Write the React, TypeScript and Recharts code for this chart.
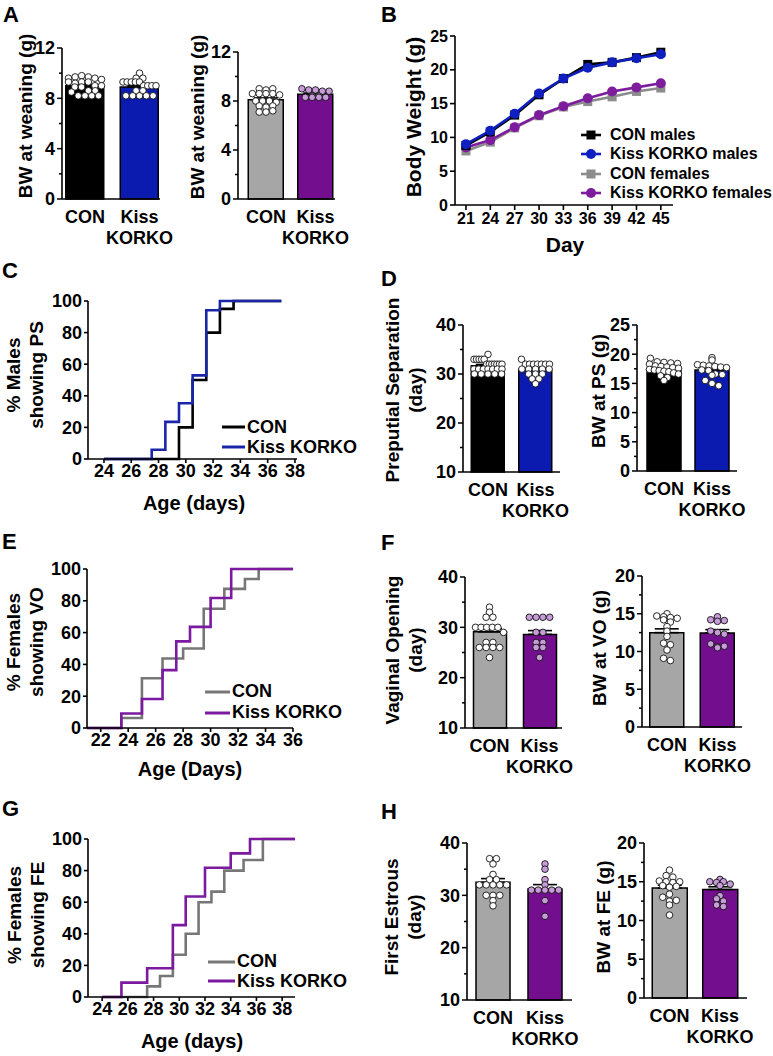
import React from 'react';
import { ComposedChart, Bar, Cell, ErrorBar, Scatter, XAxis, YAxis, LineChart, Line } from 'recharts';

const FONT = '"Liberation Sans", Arial, Helvetica, sans-serif';
const BLUE = '#0b1bb0';
const PURPLE = '#730f8f';
const GREY = '#a6a6a6';
const GREY_LINE = '#777777';
const LILAC = '#c89bd9';

const groups = ['CON', 'Kiss KORKO'];

// A - body weight at weaning
const weanMalesMean = [9.0, 8.9];
const weanMalesSem = [0.11, 0.12];
const weanMalesCon = [9.6, 9.7, 9.8, 9.7, 9.6, 9.5, 9.3, 9.2, 9.3, 9.3, 9.0, 8.9, 8.9, 9.0, 8.6, 8.5, 8.6, 8.2, 8.2, 8.2, 8.2];
const weanMalesKiss = [10.0, 9.6, 9.6, 9.3, 9.3, 9.3, 9.3, 9.3, 9.0, 9.0, 9.0, 9.0, 8.6, 8.6, 8.2, 8.2, 8.2, 8.2, 8.2];
const weanFemalesMean = [8.1, 8.55];
const weanFemalesSem = [0.15, 0.1];
const weanFemalesCon = [9.0, 8.9, 9.0, 8.6, 8.6, 8.6, 8.6, 8.5, 8.0, 8.0, 8.0, 7.9, 7.6, 7.5, 7.6, 7.1, 7.1, 7.2];
const weanFemalesKiss = [9.0, 8.9, 8.9, 8.8, 8.8, 8.4, 8.3, 8.3, 8.3, 8.3, 8.4];

// B - growth curves
const growthDays = [21, 24, 27, 30, 33, 36, 39, 42, 45];
const growthConMales = [8.8, 10.8, 13.3, 16.3, 18.7, 20.8, 21.1, 21.8, 22.6];
const growthKissMales = [9.0, 11.0, 13.5, 16.5, 18.7, 20.3, 21.1, 21.7, 22.3];
const growthConFemales = [8.0, 9.3, 11.4, 13.2, 14.5, 15.3, 16.0, 16.8, 17.3];
const growthKissFemales = [8.5, 9.6, 11.5, 13.3, 14.6, 15.8, 16.8, 17.4, 18.0];
const growthTicks = [0, 5, 10, 15, 20, 25];

// C - preputial separation, cumulative %
const psConDays = [24, 29.5, 30.5, 31.5, 32.5, 33.5, 37];
const psConPct = [0, 20, 50, 80, 95, 100, 100];
const psKissDays = [24, 27.5, 28.5, 29.5, 30.5, 31.5, 32.5, 37];
const psKissPct = [0, 5.9, 23.5, 35.3, 52.9, 94.1, 100, 100];
const psAgeTicks = [24, 26, 28, 30, 32, 34, 36, 38];

// D - age and weight at PS
const psDayMean = [31.7, 30.9];
const psDaySem = [0.25, 0.3];
const psDayCon = [34, 33, 33, 33, 33, 33, 32, 32, 32, 32, 32, 32, 32, 31, 31, 31, 31, 31, 31, 31, 30, 30, 30, 30, 30];
const psDayKiss = [33, 32, 32, 32, 32, 32, 32, 32, 31, 31, 31, 31, 31, 30, 30, 30, 29, 29, 28];
const psBwMean = [17.5, 17.3];
const psBwSem = [0.2, 0.3];
const psBwCon = [19.3, 18.7, 18.6, 18.5, 18.4, 18.3, 18.0, 17.9, 17.8, 17.7, 17.6, 17.4, 17.3, 17.2, 17.1, 17.0, 16.8, 16.6, 16.3, 16.0, 15.5];
const psBwKiss = [19.4, 19.0, 18.2, 18.1, 18.0, 17.9, 17.8, 17.7, 17.3, 17.2, 16.6, 16.5, 16.4, 15.5, 15.0, 14.6];

// E - vaginal opening, cumulative %
const voConDays = [21, 23.5, 25, 26.5, 28, 29.5, 31, 32.5, 33.5, 36];
const voConPct = [0, 6.25, 31.25, 43.75, 50, 75, 87.5, 93.75, 100, 100];
const voKissDays = [21, 23.5, 25, 26.5, 27.5, 28.5, 30, 31.5, 36];
const voKissPct = [0, 9.1, 18.2, 36.4, 54.5, 63.6, 81.8, 100, 100];
const voAgeTicks = [22, 24, 26, 28, 30, 32, 34, 36];

// F - age and weight at VO
const voDayMean = [29.1, 28.6];
const voDaySem = [0.65, 0.75];
const voDayCon = [34, 33, 32, 32, 30, 30, 30, 30, 30, 29, 27, 27, 26, 26, 26, 26, 24];
const voDayKiss = [32, 32, 32, 32, 29, 29, 27, 27, 26, 26, 24];
const voBwMean = [12.5, 12.45];
const voBwSem = [0.5, 0.45];
const voBwCon = [15.0, 14.7, 14.6, 14.5, 14.4, 14.2, 13.9, 13.3, 12.7, 12.0, 11.1, 10.9, 10.2, 9.1, 8.8];
const voBwKiss = [14.6, 14.2, 14.0, 14.1, 12.7, 12.5, 12.3, 11.0, 10.6, 10.5, 10.7];

// G - first estrus, cumulative %
const feConDays = [24, 27.5, 28.5, 29.5, 30.5, 31.5, 32.5, 33.5, 35, 36.5, 39];
const feConPct = [0, 6.7, 13.3, 26.7, 40, 60, 66.7, 80, 86.7, 100, 100];
const feKissDays = [24, 25.5, 27.5, 29.5, 30.5, 32, 34, 35.5, 39];
const feKissPct = [0, 9.1, 18.2, 45.5, 63.6, 81.8, 90.9, 100, 100];
const feAgeTicks = [24, 26, 28, 30, 32, 34, 36, 38];

// H - age and weight at FE
const feDayMean = [32.5, 31.2];
const feDaySem = [0.7, 0.85];
const feDayCon = [37, 37, 36, 34, 33, 33, 32, 32, 32, 32, 32, 30, 30, 30, 29, 28];
const feDayKiss = [36, 35, 33, 32, 31, 31, 31, 31, 31, 29, 26];
const feBwMean = [14.2, 14.0];
const feBwSem = [0.35, 0.35];
const feBwCon = [16.5, 15.8, 15.6, 15.1, 15.0, 14.9, 15.0, 14.5, 14.3, 14.4, 13.4, 13.0, 12.5, 12.6, 12.0, 10.7];
const feBwKiss = [15.3, 15.0, 14.9, 15.0, 14.7, 14.5, 13.2, 12.8, 12.5, 12.0, 11.8];

const pctTicks = [0, 20, 40, 60, 80, 100];

// spread dots of similar value side by side (scatter dot plot)
function swarm(vals: number[], g: number, bin: number, step: number, maxW: number) {
  const rows = new Map<number, number[]>();
  vals.forEach((v) => {
    const k = Math.round(v / bin);
    rows.set(k, [...(rows.get(k) || []), v]);
  });
  const pts: { g: number; v: number }[] = [];
  rows.forEach((row) => {
    const s = row.length > 1 ? Math.min(step, maxW / (row.length - 1)) : 0;
    row.forEach((v, i) => pts.push({ g: g + (i - (row.length - 1) / 2) * s, v }));
  });
  return pts;
}

const range = (a: number, b: number, s: number) => {
  const out: number[] = [];
  for (let v = a; v <= b + 1e-9; v += s) out.push(Math.round(v * 100) / 100);
  return out;
};

const makeYTick = (majorStep: number) => (props: any) => {
  const { x, y, payload } = props;
  const v = payload.value;
  const major = Math.abs(v / majorStep - Math.round(v / majorStep)) < 1e-6;
  return (
    <g>
      <line x1={x - (major ? 5 : 3)} x2={x} y1={y} y2={y} stroke="#000" strokeWidth={1.5} />
      {major && (
        <text x={x - 7} y={y} dy="0.36em" textAnchor="end" fontSize={18} fontWeight={700} fontFamily={FONT} fill="#000">
          {v}
        </text>
      )}
    </g>
  );
};

const GroupTick = (props: any) => {
  const { x, y, payload } = props;
  const words = groups[Math.round(payload.value)].split(' ');
  return (
    <text x={x} y={y} textAnchor="middle" fontSize={18} fontWeight={700} fontFamily={FONT} fill="#000">
      {words.map((w, i) => (
        <tspan key={w} x={x} dy={i === 0 ? 23.5 : 21}>
          {w}
        </tspan>
      ))}
    </text>
  );
};

const dotShape = (props: any) => (
  <circle cx={props.cx} cy={props.cy} r={3.3} fill={props.fill} stroke="#111" strokeWidth={0.9} />
);

type BarPanelProps = {
  axisX: number;
  axisEnd: number;
  top: number;
  bottom: number;
  c0: number;
  c1: number;
  barW: number;
  yDomain: [number, number];
  minorStep: number;
  majorStep: number;
  means: number[];
  sems: number[];
  dots: number[][];
  fills: string[];
  dotFills: string[];
};

function BarPanel(p: BarPanelProps) {
  const plotW = p.axisEnd - p.axisX;
  const plotH = p.bottom - p.top;
  const span = p.c1 - p.c0;
  const xDomain: [number, number] = [(p.axisX - p.c0) / span, (p.axisEnd - p.c0) / span];
  const pxPerY = plotH / (p.yDomain[1] - p.yDomain[0]);
  const bars = p.means.map((m, i) => ({ g: i, mean: m, err: [0, p.sems[i]] }));
  const swarms = p.dots.map((vals, i) => swarm(vals, i, 5.5 / pxPerY, 6.8 / span, (p.barW - 5) / span));
  const axisStyle = { stroke: '#000', strokeWidth: 1.6 };
  return (
    <div style={{ position: 'absolute', left: p.axisX - 60, top: p.top - 12 }}>
      <ComposedChart
        width={60 + plotW + 30}
        height={12 + plotH + 55}
        margin={{ top: 12, right: 30, bottom: 15, left: 0 }}
        data={bars}
      >
        <XAxis
          type="number"
          dataKey="g"
          domain={xDomain}
          ticks={[0, 1]}
          interval={0}
          tick={GroupTick}
          tickLine={false}
          tickSize={0}
          tickMargin={0}
          axisLine={axisStyle}
          height={40}
        />
        <XAxis xAxisId="dots" type="number" dataKey="g" domain={xDomain} hide />
        <YAxis
          type="number"
          domain={p.yDomain}
          ticks={range(p.yDomain[0], p.yDomain[1], p.minorStep)}
          interval={0}
          width={60}
          tick={makeYTick(p.majorStep)}
          tickLine={false}
          tickSize={0}
          tickMargin={0}
          axisLine={axisStyle}
        />
        <Bar dataKey="mean" barSize={p.barW} stroke="#000" strokeWidth={1.5} isAnimationActive={false}>
          {bars.map((b, i) => (
            <Cell key={b.g} fill={p.fills[i]} />
          ))}
          <ErrorBar dataKey="err" width={12} stroke="#000" strokeWidth={1.6} direction="y" />
        </Bar>
        {swarms.map((pts, i) => (
          <Scatter
            key={i}
            xAxisId="dots"
            data={pts}
            dataKey="v"
            fill={p.dotFills[i]}
            shape={dotShape}
            isAnimationActive={false}
          />
        ))}
      </ComposedChart>
    </div>
  );
}

type StepSeries = { name: string; days: number[]; pct: number[]; color: string };

function StepPanel(p: {
  axisX: number;
  axisEnd: number;
  top: number;
  bottom: number;
  xDomain: [number, number];
  xTicks: number[];
  series: StepSeries[];
}) {
  const plotW = p.axisEnd - p.axisX;
  const plotH = p.bottom - p.top;
  const tickStyle = { fontSize: 18, fontWeight: 700, fill: '#000', fontFamily: FONT };
  const axisStyle = { stroke: '#000', strokeWidth: 1.6 };
  return (
    <div style={{ position: 'absolute', left: p.axisX - 60, top: p.top - 10 }}>
      <LineChart width={60 + plotW + 10} height={10 + plotH + 30} margin={{ top: 10, right: 10, bottom: 0, left: 0 }}>
        <XAxis
          type="number"
          dataKey="day"
          domain={p.xDomain}
          ticks={p.xTicks}
          interval={0}
          tick={tickStyle}
          tickSize={4}
          tickMargin={1}
          axisLine={axisStyle}
          tickLine={axisStyle}
          height={30}
        />
        <YAxis
          type="number"
          domain={[0, 100]}
          ticks={pctTicks}
          interval={0}
          width={60}
          tick={tickStyle}
          tickSize={4}
          tickMargin={2}
          axisLine={axisStyle}
          tickLine={axisStyle}
        />
        {p.series.map((s) => (
          <Line
            key={s.name}
            data={s.days.map((d, i) => ({ day: d, pct: s.pct[i] }))}
            dataKey="pct"
            type="stepAfter"
            stroke={s.color}
            strokeWidth={2.6}
            dot={false}
            isAnimationActive={false}
          />
        ))}
      </LineChart>
    </div>
  );
}

const LineLegend = (p: { x: number; y: number; gap: number; lineW: number; items: StepSeries[] }) => (
  <div style={{ position: 'absolute', left: p.x, top: p.y, fontFamily: FONT, fontWeight: 700, fontSize: 18 }}>
    {p.items.map((it) => (
      <div key={it.name} style={{ display: 'flex', alignItems: 'center', height: p.gap, whiteSpace: 'nowrap' }}>
        <svg width={p.lineW} height={6}>
          <line x1={0} x2={p.lineW} y1={3} y2={3} stroke={it.color} strokeWidth={3} />
        </svg>
        <span style={{ marginLeft: 2 }}>{it.name}</span>
      </div>
    ))}
  </div>
);

const VTitle = ({ x, y, lines, size = 19 }: { x: number; y: number; lines: string[]; size?: number }) => (
  <div
    style={{
      position: 'absolute',
      left: x,
      top: y,
      transform: 'translate(-50%, -50%) rotate(-90deg)',
      whiteSpace: 'nowrap',
      textAlign: 'center',
      fontSize: size,
      fontWeight: 700,
      lineHeight: `${size + 4}px`,
      fontFamily: FONT,
    }}
  >
    {lines.map((l) => (
      <div key={l}>{l}</div>
    ))}
  </div>
);

const HTitle = ({ x, y, text, size = 20 }: { x: number; y: number; text: string; size?: number }) => (
  <div
    style={{
      position: 'absolute',
      left: x,
      top: y,
      transform: 'translate(-50%, -50%)',
      whiteSpace: 'nowrap',
      fontSize: size,
      fontWeight: 700,
      fontFamily: FONT,
    }}
  >
    {text}
  </div>
);

const growthSeries = [
  { key: 'conM', name: 'CON males', values: growthConMales, color: '#000000', shape: 'square' },
  { key: 'kissM', name: 'Kiss KORKO males', values: growthKissMales, color: '#1020c0', shape: 'circle' },
  { key: 'conF', name: 'CON females', values: growthConFemales, color: '#8c8c8c', shape: 'square' },
  { key: 'kissF', name: 'Kiss KORKO females', values: growthKissFemales, color: '#7d1d9e', shape: 'circle' },
];

const markerFor = (shape: string, color: string) => (props: any) => {
  const { cx, cy, index } = props;
  if (cx == null || cy == null) return <g key={index} />;
  return shape === 'square' ? (
    <rect key={index} x={cx - 4.5} y={cy - 4.5} width={9} height={9} fill={color} />
  ) : (
    <circle key={index} cx={cx} cy={cy} r={5} fill={color} />
  );
};

function GrowthPanel() {
  const data = growthDays.map((d, i) => {
    const row: Record<string, number> = { day: d };
    growthSeries.forEach((s) => (row[s.key] = s.values[i]));
    return row;
  });
  const tickStyle = { fontSize: 16, fontWeight: 700, fill: '#000', fontFamily: FONT };
  const axisStyle = { stroke: '#000', strokeWidth: 1.6 };
  const drawOrder = [2, 3, 0, 1];
  return (
    <div style={{ position: 'absolute', left: 455 - 60, top: 36 - 10 }}>
      <LineChart width={60 + 218 + 10} height={10 + 169 + 30} data={data} margin={{ top: 10, right: 10, bottom: 0, left: 0 }}>
        <XAxis
          type="number"
          dataKey="day"
          domain={[19.65, 46.5]}
          ticks={growthDays}
          interval={0}
          tick={tickStyle}
          tickSize={5}
          tickMargin={3}
          axisLine={axisStyle}
          tickLine={axisStyle}
          height={30}
        />
        <YAxis
          type="number"
          domain={[0, 25]}
          ticks={growthTicks}
          interval={0}
          width={60}
          tick={tickStyle}
          tickSize={5}
          tickMargin={2}
          axisLine={axisStyle}
          tickLine={axisStyle}
        />
        {drawOrder.map((i) => {
          const s = growthSeries[i];
          return (
            <Line
              key={s.key}
              dataKey={s.key}
              name={s.name}
              stroke={s.color}
              strokeWidth={2.6}
              dot={markerFor(s.shape, s.color)}
              isAnimationActive={false}
            />
          );
        })}
      </LineChart>
    </div>
  );
}

const GrowthLegend = () => (
  <div style={{ position: 'absolute', left: 581, top: 125, fontFamily: FONT, fontWeight: 700, fontSize: 16 }}>
    {growthSeries.map((s) => (
      <div key={s.key} style={{ display: 'flex', alignItems: 'center', height: 19.5, whiteSpace: 'nowrap' }}>
        <svg width={20} height={12}>
          <line x1={0} x2={20} y1={6} y2={6} stroke={s.color} strokeWidth={2.6} />
          {s.shape === 'square' ? (
            <rect x={5.5} y={1.5} width={9} height={9} fill={s.color} />
          ) : (
            <circle cx={10} cy={6} r={5} fill={s.color} />
          )}
        </svg>
        <span style={{ marginLeft: 9 }}>{s.name}</span>
      </div>
    ))}
  </div>
);

const Letter = ({ x, y, t }: { x: number; y: number; t: string }) => (
  <div style={{ position: 'absolute', left: x, top: y, fontSize: 22, fontWeight: 700, fontFamily: FONT, lineHeight: '22px' }}>
    {t}
  </div>
);

const psSeries: StepSeries[] = [
  { name: 'CON', days: psConDays, pct: psConPct, color: '#000000' },
  { name: 'Kiss KORKO', days: psKissDays, pct: psKissPct, color: '#1a26a8' },
];
const voSeries: StepSeries[] = [
  { name: 'CON', days: voConDays, pct: voConPct, color: GREY_LINE },
  { name: 'Kiss KORKO', days: voKissDays, pct: voKissPct, color: '#7b1aa0' },
];
const feSeries: StepSeries[] = [
  { name: 'CON', days: feConDays, pct: feConPct, color: GREY_LINE },
  { name: 'Kiss KORKO', days: feKissDays, pct: feKissPct, color: '#7b1aa0' },
];

export default function App() {
  return (
    <div style={{ position: 'absolute', left: 0, top: 0, width: 773, height: 1056, background: '#fff', overflow: 'hidden' }}>
      {/* A */}
      <Letter x={3} y={4} t="A" />
      <VTitle x={25} y={116} lines={['BW at weaning (g)']} />
      <BarPanel
        axisX={62} axisEnd={160} top={48} bottom={199} c0={85} c1={139.5} barW={38}
        yDomain={[0, 12]} minorStep={2} majorStep={4}
        means={weanMalesMean} sems={weanMalesSem} dots={[weanMalesCon, weanMalesKiss]}
        fills={['#000000', BLUE]} dotFills={['#ffffff', '#ffffff']}
      />
      <VTitle x={197} y={117} lines={['BW at weaning (g)']} />
      <BarPanel
        axisX={238} axisEnd={335} top={52} bottom={199} c0={266} c1={315.5} barW={35}
        yDomain={[0, 12]} minorStep={2} majorStep={4}
        means={weanFemalesMean} sems={weanFemalesSem} dots={[weanFemalesCon, weanFemalesKiss]}
        fills={[GREY, PURPLE]} dotFills={['#ffffff', LILAC]}
      />

      {/* B */}
      <Letter x={381} y={4} t="B" />
      <VTitle x={413} y={117} lines={['Body Weight (g)']} size={21} />
      <GrowthPanel />
      <GrowthLegend />
      <HTitle x={565} y={245} text="Day" size={21} />

      {/* C */}
      <Letter x={2} y={260} t="C" />
      <VTitle x={25} y={375} lines={['% Males', 'showing PS']} />
      <StepPanel axisX={88} axisEnd={297} top={301} bottom={459} xDomain={[22.83, 38.15]} xTicks={psAgeTicks} series={psSeries} />
      <LineLegend x={222} y={417} gap={20} lineW={23} items={psSeries} />
      <HTitle x={194} y={503} text="Age (days)" />

      {/* D */}
      <Letter x={381} y={268} t="D" />
      <VTitle x={404} y={390} lines={['Preputial Separation', '(day)']} />
      <BarPanel
        axisX={463} axisEnd={560} top={325} bottom={472} c0={488} c1={535.5} barW={33}
        yDomain={[10, 40]} minorStep={5} majorStep={10}
        means={psDayMean} sems={psDaySem} dots={[psDayCon, psDayKiss]}
        fills={['#000000', BLUE]} dotFills={['#ffffff', '#ffffff']}
      />
      <VTitle x={598} y={391} lines={['BW at PS (g)']} />
      <BarPanel
        axisX={637} axisEnd={737} top={325} bottom={471} c0={664} c1={712} barW={34}
        yDomain={[0, 25]} minorStep={2.5} majorStep={5}
        means={psBwMean} sems={psBwSem} dots={[psBwCon, psBwKiss]}
        fills={['#000000', BLUE]} dotFills={['#ffffff', '#ffffff']}
      />

      {/* E */}
      <Letter x={2} y={531} t="E" />
      <VTitle x={25} y={642} lines={['% Females', 'showing VO']} />
      <StepPanel axisX={87} axisEnd={293} top={569} bottom={728} xDomain={[21, 36]} xTicks={voAgeTicks} series={voSeries} />
      <LineLegend x={205} y={681} gap={21} lineW={25} items={voSeries} />
      <HTitle x={190} y={769} text="Age (Days)" />

      {/* F */}
      <Letter x={381} y={532} t="F" />
      <VTitle x={404} y={650} lines={['Vaginal Opening', '(day)']} />
      <BarPanel
        axisX={465} axisEnd={562} top={577} bottom={728} c0={489.5} c1={539.5} barW={33}
        yDomain={[10, 40]} minorStep={5} majorStep={10}
        means={voDayMean} sems={voDaySem} dots={[voDayCon, voDayKiss]}
        fills={[GREY, PURPLE]} dotFills={['#ffffff', LILAC]}
      />
      <VTitle x={599} y={648} lines={['BW at VO (g)']} />
      <BarPanel
        axisX={642} axisEnd={742} top={576} bottom={727} c0={667} c1={717.5} barW={34}
        yDomain={[0, 20]} minorStep={2.5} majorStep={5}
        means={voBwMean} sems={voBwSem} dots={[voBwCon, voBwKiss]}
        fills={[GREY, PURPLE]} dotFills={['#ffffff', LILAC]}
      />

      {/* G */}
      <Letter x={2} y={798} t="G" />
      <VTitle x={26} y={915} lines={['% Females', 'showing FE']} />
      <StepPanel axisX={88} axisEnd={295} top={839} bottom={997} xDomain={[22.9, 38.95]} xTicks={feAgeTicks} series={feSeries} />
      <LineLegend x={208} y={952} gap={19.5} lineW={27} items={feSeries} />
      <HTitle x={192} y={1041} text="Age (days)" />

      {/* H */}
      <Letter x={381} y={801} t="H" />
      <VTitle x={403} y={917} lines={['First Estrous', '(day)']} />
      <BarPanel
        axisX={467} axisEnd={572} top={843} bottom={1000} c0={493} c1={545} barW={34}
        yDomain={[10, 40]} minorStep={5} majorStep={10}
        means={feDayMean} sems={feDaySem} dots={[feDayCon, feDayKiss]}
        fills={[GREY, PURPLE]} dotFills={['#ffffff', LILAC]}
      />
      <VTitle x={603} y={917} lines={['BW at FE (g)']} />
      <BarPanel
        axisX={644} axisEnd={747} top={843} bottom={998} c0={669.5} c1={720} barW={35}
        yDomain={[0, 20]} minorStep={2.5} majorStep={5}
        means={feBwMean} sems={feBwSem} dots={[feBwCon, feBwKiss]}
        fills={[GREY, PURPLE]} dotFills={['#ffffff', LILAC]}
      />
    </div>
  );
}
